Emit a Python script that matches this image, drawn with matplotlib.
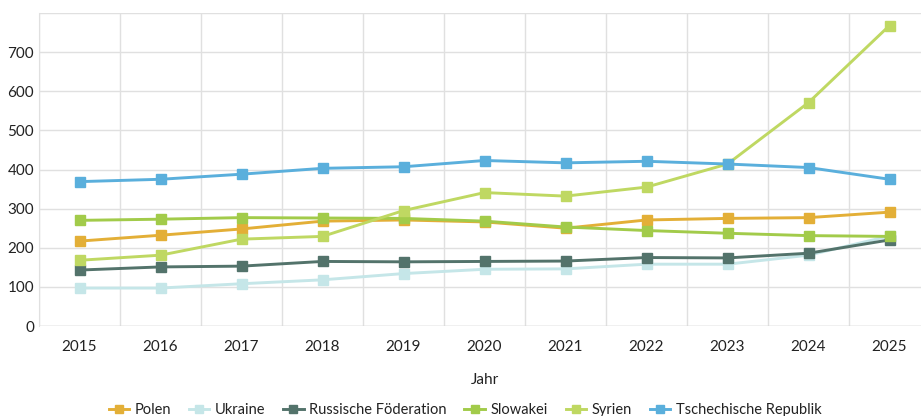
import matplotlib.pyplot as plt
import numpy as np

plt.rcParams["font.family"] = ["Lato", "DejaVu Sans"]

years = [2015, 2016, 2017, 2018, 2019, 2020, 2021, 2022, 2023, 2024, 2025]
polen = [217, 232, 248, 268, 271, 266, 250, 271, 275, 277, 291]
ukraine = [97, 97, 108, 118, 134, 145, 146, 158, 158, 181, 230]
russland = [143, 151, 153, 165, 164, 165, 166, 175, 174, 186, 220]
slowakei = [270, 273, 277, 276, 275, 268, 253, 244, 237, 231, 229]
syrien = [168, 181, 222, 229, 295, 341, 332, 355, 414, 571, 768]
tschechien = [369, 375, 388, 403, 407, 423, 417, 421, 414, 405, 375]

series = [
    ("Polen", polen, "#E3AF37"),
    ("Ukraine", ukraine, "#C5E6E8"),
    ("Russische Föderation", russland, "#53736B"),
    ("Slowakei", slowakei, "#A2CB4A"),
    ("Syrien", syrien, "#BFD862"),
    ("Tschechische Republik", tschechien, "#5AAFDC"),
]

fig = plt.figure(figsize=(9.21, 4.16), dpi=100)
# axes runs a little past the right edge, like the original export
ax = fig.add_axes([39 / 921, 90 / 416, 891 / 921, 313 / 416])

for name, vals, color in series:
    ax.plot(years, vals, color=color, lw=2.1, marker="s", ms=7, label=name, zorder=3)

ax.set_ylim(0, 800)
ax.set_xlim(2014.5, 2025.5)
ax.set_yticks(range(0, 800, 100))
ax.set_xticks(years)
ax.set_xticks(np.arange(2014.5, 2025.6, 1), minor=True)
ax.grid(axis="y", which="major", color="#e0e0e0", lw=1)
ax.grid(axis="x", which="minor", color="#e0e0e0", lw=1)
ax.axhline(800, color="#e0e0e0", lw=1)
ax.tick_params(which="both", length=0, labelsize=11, colors="#222222")
ax.tick_params(axis="x", pad=10)
for s in ["top", "right", "bottom"]:
    ax.spines[s].set_visible(False)
ax.spines["left"].set_color("#e0e0e0")
ax.axhline(0, color="#d0d0d0", lw=1)

ax.set_xlabel("Jahr", fontsize=11, color="#222222", labelpad=14)

fig.legend(loc="lower center", bbox_to_anchor=(0.505, -0.035), ncol=6, frameon=False,
           fontsize=10.5, handlelength=1.4, columnspacing=1.2, handletextpad=0.4,
           markerscale=0.85, labelcolor="#222222")

fig.savefig("out.png", dpi=100)
